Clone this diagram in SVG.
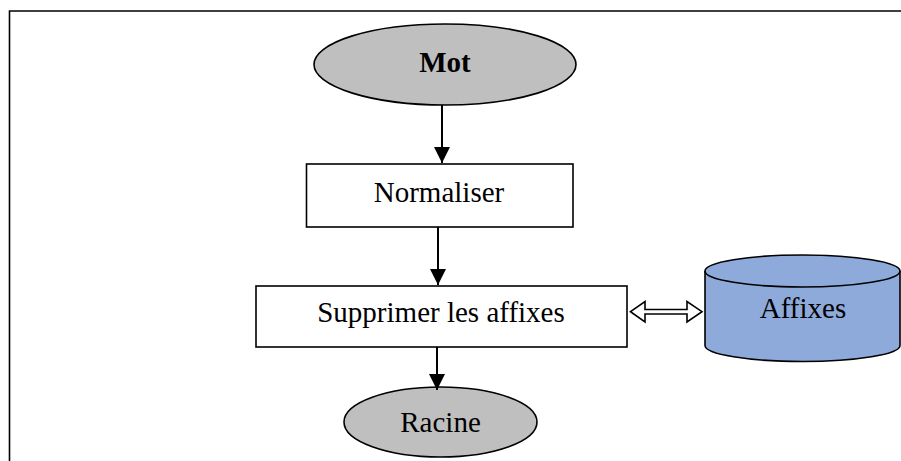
<svg xmlns="http://www.w3.org/2000/svg" width="901" height="461" viewBox="0 0 901 461">
  <style>
    .box { fill: #ffffff; stroke: #000000; stroke-width: 1.6; }
    .term { fill: #bfbfbf; stroke: #000000; stroke-width: 1.6; }
    .db { fill: #8eaadb; stroke: #000000; stroke-width: 1.6; }
    .lbl { font-family: "Liberation Serif", "Times New Roman", serif; font-size: 29px; fill: #000000; text-anchor: middle; }
    .bold { font-weight: bold; }
    .flow { stroke: #000000; stroke-width: 2; fill: none; }
  </style>
  <defs>
    <marker id="head" viewBox="0 0 16 16" refX="16" refY="8" markerWidth="16" markerHeight="16" markerUnits="userSpaceOnUse" orient="auto">
      <path d="M0,0 L16,8 L0,16 Z" fill="#000000"/>
    </marker>
  </defs>

  <rect width="901" height="461" fill="#ffffff"/>

  <!-- outer frame (top and left edges) -->
  <path d="M9.5,461 L9.5,11 L901,11" fill="none" stroke="#000000" stroke-width="1.6"/>

  <g id="mot">
    <ellipse class="term" cx="445" cy="64.5" rx="131" ry="40.5"/>
    <text class="lbl bold" x="445" y="72">Mot</text>
  </g>

  <g id="normaliser">
    <rect class="box" x="306.5" y="164" width="266.5" height="63"/>
    <text class="lbl" x="439" y="202">Normaliser</text>
  </g>

  <g id="supprimer">
    <rect class="box" x="256" y="286" width="371" height="61"/>
    <text class="lbl" x="441" y="322">Supprimer les affixes</text>
  </g>

  <g id="racine">
    <ellipse class="term" cx="440.5" cy="422" rx="96.5" ry="35"/>
    <text class="lbl" x="440.5" y="432">Racine</text>
  </g>

  <g id="affixes">
    <path class="db" d="M705,271 L705,345.5 A97.5,16 0 0 0 900,345.5 L900,271"/>
    <ellipse class="db" cx="802.5" cy="271" rx="97.5" ry="16"/>
    <text class="lbl" x="803" y="318">Affixes</text>
  </g>

  <g id="connectors">
    <line class="flow" x1="442" y1="105" x2="442" y2="163" marker-end="url(#head)"/>
    <line class="flow" x1="438" y1="227" x2="438" y2="285" marker-end="url(#head)"/>
    <line class="flow" x1="437" y1="347" x2="437" y2="390" marker-end="url(#head)"/>
    <!-- hollow double-headed arrow between the process and the store -->
    <path d="M630.5,311.7 L645,301.5 L645,309.5 L687,309.5 L687,301.5 L702,311.7 L687,322 L687,314 L645,314 L645,322 Z"
          fill="#ffffff" stroke="#000000" stroke-width="1.6" stroke-linejoin="miter"/>
  </g>
</svg>
